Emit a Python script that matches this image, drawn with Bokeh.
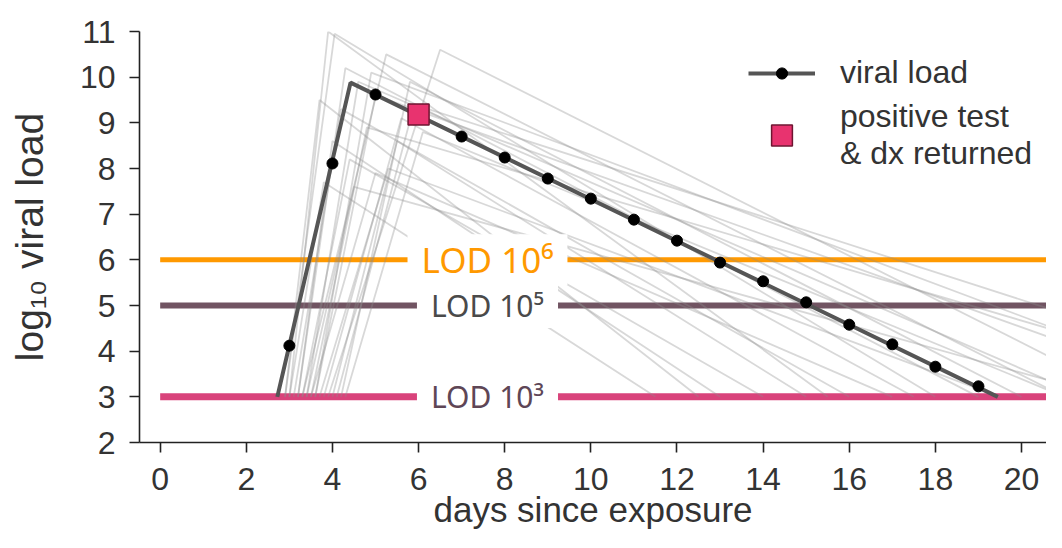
from bokeh.plotting import figure
from bokeh.models import Range1d, Label, Legend, LegendItem
from bokeh.embed import file_html
from bokeh.resources import INLINE

# ---------------- data ----------------
main_days = [2.72, 4.42, 19.45]
main_log_vl = [3.0, 9.88, 3.0]

sample_days = [3, 4, 5, 6, 7, 8, 9, 10, 11, 12, 13, 14, 15, 16, 17, 18, 19]
sample_log_vl = [4.12, 8.11, 9.62, 9.18, 8.70, 8.24, 7.78, 7.34, 6.88, 6.42,
                 5.94, 5.53, 5.07, 4.58, 4.15, 3.66, 3.23]

test_day = [6]
test_log_vl = [9.18]

lod_levels = [6, 5, 3]
lod_names = ["LOD 10\u2076", "LOD 10\u2075", "LOD 10\u00b3"]

# other simulated trajectories: onset (at 10^3), peak day, peak value, clearance day (back at 10^3)
floor_log_vl = 3.0
gray_onset = [2.9, 3.0, 3.3, 3.9, 3.1, 3.4, 3.2, 3.6, 3.5, 3.8, 3.0, 3.3,
              4.1, 3.7, 3.4, 4.0, 3.2, 4.3, 3.6, 2.9, 3.5, 4.2]
gray_peak_day = [4.05, 3.9, 5.25, 6.5, 4.2, 4.6, 4.0, 5.0, 4.8, 5.6, 3.8, 4.4,
                 5.9, 5.3, 4.5, 5.5, 4.3, 6.1, 4.9, 3.7, 5.0, 5.8]
gray_peak = [10.95, 11.0, 10.5, 10.6, 9.3, 9.9, 8.6, 9.6, 8.9, 9.1, 7.7, 8.2,
             9.4, 8.0, 7.6, 8.6, 10.2, 8.8, 10.1, 9.5, 7.9, 9.9]
gray_clear = [18.0, 15.5, 21.0, 22.5, 16.0, 21.5, 13.0, 24.5, 26.0, 17.5, 11.5, 14.0,
              27.0, 19.5, 22.0, 15.0, 19.0, 21.0, 25.0, 12.5, 17.0, 20.0]

x_tick_days = [0, 2, 4, 6, 8, 10, 12, 14, 16, 18, 20]
y_tick_values = [2, 3, 4, 5, 6, 7, 8, 9, 10, 11]

# ---------------- styling ----------------
FONT = "Liberation Sans"
LOD_FONT = "Noto Sans"
lod_line_colors = ["#FF9900", "#715462", "#D9437B"]
lod_text_colors = ["#FF9900", "#4a4a4a", "#5e4656"]
lod_line_widths = [5, 6, 7]
lod_font_sizes = ["35px", "30px", "30px"]
lod_label_day = 7.6

p = figure(width=1046, height=532,
           x_range=Range1d(-0.48, 20.58), y_range=Range1d(2, 11),
           output_backend="svg", toolbar_location=None,
           min_border_left=139, min_border_right=0,
           min_border_top=31, min_border_bottom=90)
p.outline_line_color = None
p.grid.visible = False

# LOD reference lines
for lv, col, lw in zip(lod_levels, lod_line_colors, lod_line_widths):
    p.line([0, p.x_range.end + 1], [lv, lv], line_color=col, line_width=lw)

# gray simulated trajectories
xs = [[o, pd, c] for o, pd, c in zip(gray_onset, gray_peak_day, gray_clear)]
ys = [[floor_log_vl, pk, floor_log_vl] for pk in gray_peak]
p.multi_line(xs, ys, line_color="#8c8c8c", line_alpha=0.34, line_width=1.8)

# main trajectory
main_r = p.line(main_days, main_log_vl, line_color="#555555", line_width=4)
dot_r = p.scatter(sample_days, sample_log_vl, size=11, fill_color="black",
                  line_color="black")
sq_r = p.scatter(test_day, test_log_vl, marker="square", size=21,
                 fill_color="#E8336F", line_color="#6e1430", line_width=1.5)

# LOD labels
for lv, name, tcol, fs in zip(lod_levels, lod_names, lod_text_colors, lod_font_sizes):
    p.add_layout(Label(x=lod_label_day, y=lv, text=name, text_align="center",
                       text_baseline="middle", text_font=LOD_FONT,
                       text_font_size=fs, text_color=tcol,
                       background_fill_color="white", background_fill_alpha=1.0,
                       padding=(14, 2)))

# axes
p.xaxis.ticker = x_tick_days
p.yaxis.ticker = y_tick_values
for ax in (p.xaxis[0], p.yaxis[0]):
    ax.axis_line_color = "#222222"
    ax.axis_line_width = 1.6
    ax.major_tick_line_color = "#222222"
    ax.major_tick_line_width = 1.6
    ax.major_tick_out = 10
    ax.major_tick_in = 0
    ax.minor_tick_line_color = None
    ax.major_label_text_font = FONT
    ax.major_label_text_font_size = "32px"
    ax.major_label_text_color = "#333333"
    ax.axis_label_text_font = FONT
    ax.axis_label_text_font_style = "normal"
    ax.axis_label_text_color = "#333333"

p.xaxis.axis_label = "days since exposure"
p.xaxis.axis_label_text_font_size = "35px"
p.xaxis.major_label_standoff = 15
p.xaxis.axis_label_standoff = -3

p.yaxis.axis_label = "log\u2081\u2080 viral load"
p.yaxis.axis_label_text_font_size = "39px"
p.yaxis.major_label_standoff = 14
p.yaxis.axis_label_standoff = 26

# legends
common = dict(border_line_color=None, background_fill_alpha=0.0, padding=0,
              glyph_width=67, label_standoff=25, label_text_font=FONT,
              label_text_font_size="32px", label_text_color="#333333",
              spacing=0, margin=0, label_text_line_height=0.9)
leg1 = Legend(items=[LegendItem(label="viral load", renderers=[main_r, dot_r])],
              location=(609, 351), glyph_height=28, **common)
leg2 = Legend(items=[LegendItem(label="positive test\n& dx returned", renderers=[sq_r])],
              location=(609, 270), glyph_height=52, **common)
p.add_layout(leg1)
p.add_layout(leg2)

open("out.html", "w").write(file_html(p, INLINE))
